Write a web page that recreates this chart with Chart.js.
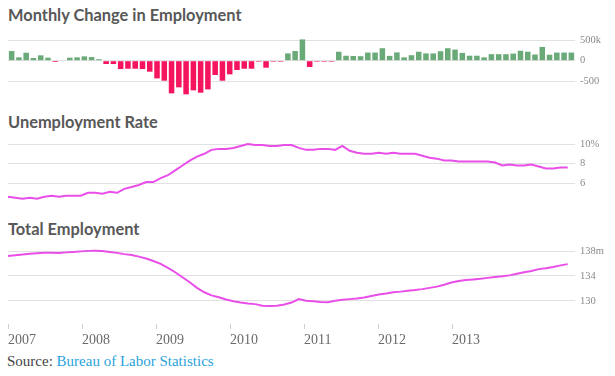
<!DOCTYPE html>
<html><head><meta charset="utf-8">
<script src="https://cdn.jsdelivr.net/npm/chart.js@4.4.1/dist/chart.umd.min.js"></script>
<style>
html,body{margin:0;padding:0;background:#fff;width:615px;height:376px;overflow:hidden;}
body{position:relative;}
.t{position:absolute;left:8px;font-family:Lato,"Open Sans",sans-serif;font-weight:700;font-size:16.4px;line-height:20px;color:#585858;white-space:nowrap;}
canvas{position:absolute;left:0;}
#src{position:absolute;left:7px;top:353px;font-family:"Liberation Serif",serif;font-size:15px;line-height:17.25px;color:#444;white-space:nowrap;}
#src span{color:#2aa3dd;}
</style></head><body>
<div class="t" style="top:5px">Monthly Change in Employment</div>
<div class="t" style="top:112px">Unemployment Rate</div>
<div class="t" style="top:219px">Total Employment</div>
<canvas id="c1" width="615" height="80" style="top:26px"></canvas>
<canvas id="c2" width="615" height="84" style="top:128px"></canvas>
<canvas id="c3" width="615" height="113" style="top:235px"></canvas>
<div id="src">Source: <span>Bureau of Labor Statistics</span></div>
<script>
// ---- data (monthly, Jan 2007 - Jun 2013) ----
const monthNames = ['Jan','Feb','Mar','Apr','May','Jun','Jul','Aug','Sep','Oct','Nov','Dec'];
const months = [];
for (let y = 2007; y <= 2013; y++) for (let m = 0; m < 12; m++) months.push(monthNames[m] + ' ' + y);
const barMonths = months.slice(0, 78);     // Jan 2007 .. Jun 2013
const lineMonths = months.slice(0, 79);    // one extra slot at the right end

// monthly change in payrolls, thousands
const jobChange = [
  235, 81, 194, 65, 130, 73, -30, -12, 73, 81, 105, 89,
  35, -81, -81, -203, -195, -195, -203, -267, -430, -486, -794, -648,
  -818, -721, -778, -697, -348, -486, -332, -227, -195, -195, -25, -170,
  -25, -25, 178, 235, 518, -154, -25, -25, -25, 218, 121, 115,
  110, 198, 198, 303, 117, 202, 81, 133, 218, 177, 177, 230,
  303, 270, 190, 121, 121, 81, 158, 158, 158, 173, 242, 218,
  150, 335, 145, 197, 197, 197
];
// unemployment rate, %
const unemployment = [
  4.6, 4.5, 4.4, 4.5, 4.4, 4.6, 4.7, 4.6, 4.7, 4.7, 4.7, 5.0,
  5.0, 4.9, 5.1, 5.0, 5.4, 5.6, 5.8, 6.1, 6.1, 6.5, 6.8, 7.3,
  7.8, 8.3, 8.7, 9.0, 9.4, 9.5, 9.5, 9.6, 9.8, 10.0, 9.9, 9.9,
  9.8, 9.8, 9.9, 9.9, 9.6, 9.4, 9.4, 9.5, 9.5, 9.4, 9.8, 9.3,
  9.1, 9.0, 9.0, 9.1, 9.0, 9.1, 9.0, 9.0, 9.0, 8.8, 8.6, 8.5,
  8.3, 8.3, 8.2, 8.2, 8.2, 8.2, 8.2, 8.1, 7.8, 7.9, 7.8, 7.8,
  7.9, 7.7, 7.5, 7.5, 7.6, 7.6
];
// total employment, millions
const employment = [
  137.2, 137.32, 137.45, 137.55, 137.65, 137.73, 137.72, 137.7, 137.78, 137.85, 137.94, 138.02,
  138.05, 138.0, 137.85, 137.7, 137.5, 137.35, 137.1, 136.8, 136.4, 135.95, 135.3, 134.6,
  133.8, 133.0, 132.1, 131.4, 130.9, 130.6, 130.25, 129.95, 129.75, 129.6, 129.5, 129.25,
  129.2, 129.25, 129.45, 129.75, 130.3, 130.05, 129.95, 129.85, 129.8, 130.05, 130.2, 130.3,
  130.4, 130.55, 130.8, 131.05, 131.2, 131.4, 131.5, 131.65, 131.75, 131.9, 132.1, 132.3,
  132.6, 132.95, 133.2, 133.35, 133.45, 133.55, 133.7, 133.85, 133.95, 134.1, 134.35, 134.6,
  134.8, 135.1, 135.25, 135.45, 135.7, 135.9
];
// tick labels
const barTicks = [-500, 0, 500];
const barTickLabels = ['-500', '0', '500k'];
const rateTicks = [6, 8, 10];
const rateTickLabels = ['6', '8', '10%'];
const empTicks = [130, 134, 138];
const empTickLabels = ['130', '134', '138m'];
const yearTicks = [2007, 2008, 2009, 2010, 2011, 2012, 2013];
const yearLabels = ['2007', '2008', '2009', '2010', '2011', '2012', '2013'];

// ---- styles ----
const GREEN = '#6aaa79';
const RED = '#f5145e';
const LINE = '#e94fe8';
const GRID = '#e1e1e1';
const tickFont = {family: 'Liberation Serif', size: 10.5};

function yAxis(min, max, ticks, labels) {
  return {
    position: 'right', min: min, max: max,
    grid: {color: GRID, lineWidth: 1, drawTicks: false},
    border: {display: false},
    afterBuildTicks: s => { s.ticks = ticks.map(v => ({value: v})); },
    afterFit: s => { s.width = 40; s.paddingTop = 0; s.paddingBottom = 0; },
    ticks: {padding: 5, font: tickFont, color: '#8a8a8a',
      callback: (v, i) => labels[i]}
  };
}
const common = {
  responsive: false, animation: false, events: [],
  plugins: {legend: {display: false}, tooltip: {enabled: false}}
};

new Chart(document.getElementById('c1'), {
  type: 'bar',
  data: {labels: barMonths, datasets: [{
    data: jobChange,
    backgroundColor: jobChange.map(v => v < 0 ? RED : GREEN),
    borderWidth: 0, barPercentage: 0.76, categoryPercentage: 1
  }]},
  options: Object.assign({}, common, {
    layout: {padding: {left: 8, right: 0, top: 8, bottom: 8}},
    scales: {
      x: {display: false, offset: true},
      y: yAxis(-907, 649, barTicks, barTickLabels)
    }
  })
});

new Chart(document.getElementById('c2'), {
  type: 'line',
  data: {labels: lineMonths, datasets: [{
    data: unemployment, borderColor: LINE, borderWidth: 2, pointRadius: 0, tension: 0, fill: false
  }]},
  options: Object.assign({}, common, {
    layout: {padding: {left: 8, right: 0, top: 8, bottom: 8}},
    scales: {
      x: {display: false, offset: false},
      y: yAxis(3.85, 10.82, rateTicks, rateTickLabels)
    }
  })
});

new Chart(document.getElementById('c3'), {
  type: 'line',
  data: {labels: lineMonths, datasets: [{
    data: employment, borderColor: LINE, borderWidth: 2, pointRadius: 0, tension: 0, fill: false
  }]},
  options: Object.assign({}, common, {
    layout: {padding: {left: 8, right: 0, top: 8, bottom: 0}},
    scales: {
      x: {display: false, offset: false},
      yr: {
        type: 'linear', position: 'bottom', min: 2007, max: 2014.662,
        grid: {display: true, drawOnChartArea: false, drawTicks: true, tickLength: 5, color: '#cfcfcf', lineWidth: 1},
        border: {display: false},
        afterBuildTicks: s => { s.ticks = yearTicks.map(v => ({value: v})); },
        afterFit: s => { s.height = 24; s.paddingLeft = 0; s.paddingRight = 0; },
        ticks: {align: 'start', padding: 3, maxRotation: 0, autoSkip: false,
          font: {family: 'Liberation Serif', size: 14}, color: '#6a6a6a',
          callback: (v, i) => yearLabels[i]}
      },
      y: yAxis(126.32, 139.28, empTicks, empTickLabels)
    }
  })
});
</script>
</body></html>
